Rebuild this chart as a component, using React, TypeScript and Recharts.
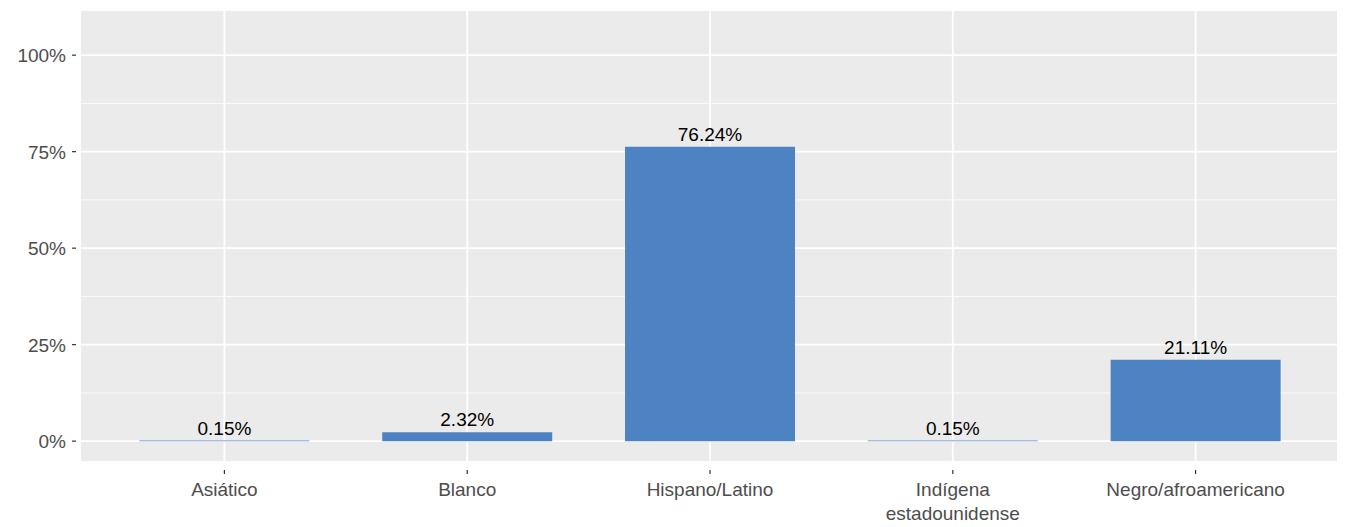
import React from 'react';
import { BarChart, Bar, XAxis, YAxis, CartesianGrid, LabelList } from 'recharts';

const categories = ['Asiático', 'Blanco', 'Hispano/Latino', 'Indígena\nestadounidense', 'Negro/afroamericano'];
const values = [0.15, 2.32, 76.24, 0.15, 21.11];
const majorTicks = [0, 25, 50, 75, 100];
const minorTicks = [12.5, 37.5, 62.5, 87.5];

const data = categories.map((name, i) => ({ name, value: values[i] }));
const FONT = '"Liberation Sans Narrow", "Liberation Sans", Arial, sans-serif';

const XTick = (props: any) => {
  const { x, y, payload } = props;
  const lines = String(payload.value).split('\n');
  return (
    <g transform={`translate(${x},${y})`}>
      <line x1={0} x2={0} y1={0} y2={4} stroke="#333" strokeWidth={1.2} />
      {lines.map((l, i) => (
        <text key={i} x={0} y={26 + i * 24} textAnchor="middle" fill="#4D4D4D" fontSize={19} fontFamily={FONT}>{l}</text>
      ))}
    </g>
  );
};

const YTick = (props: any) => {
  const { x, y, payload } = props;
  return (
    <g transform={`translate(${x},${y})`}>
      <line x1={0} x2={4} y1={0} y2={0} stroke="#333" strokeWidth={1.2} />
      <text x={-6} y={7} textAnchor="end" fill="#4D4D4D" fontSize={19} fontFamily={FONT}>{payload.value}%</text>
    </g>
  );
};

export default function App() {
  return (
    <div style={{ margin: '-8px 0 0 -8px', width: 1345, height: 527, background: '#fff' }}>
      <BarChart width={1345} height={527} data={data} margin={{ top: 10, right: 5, bottom: 0, left: 0 }} barCategoryGap="15%">
        <CartesianGrid fill="#EBEBEB" stroke="#fff" strokeWidth={0.8} vertical={false} horizontalValues={minorTicks} />
        <CartesianGrid stroke="#fff" strokeWidth={1.8} />
        <XAxis dataKey="name" height={65} tick={<XTick />} tickLine={false} axisLine={false} interval={0} padding={{ left: 23, right: 23 }} />
        <YAxis width={80} domain={[-5.4, 111.7]} ticks={majorTicks} tick={<YTick />} tickLine={false} axisLine={false} allowDataOverflow />
        <Bar dataKey="value" fill="#4E83C3" isAnimationActive={false}>
          <LabelList dataKey="value" position="top" offset={6} formatter={(v: any) => `${Number(v).toFixed(2)}%`} fill="#000" fontSize={19} fontFamily={FONT} />
        </Bar>
      </BarChart>
    </div>
  );
}
